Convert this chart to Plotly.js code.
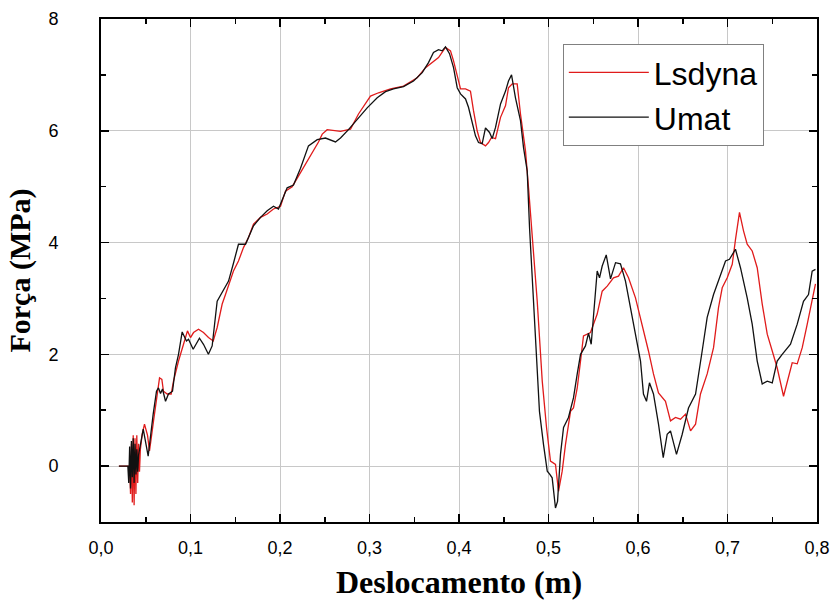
<!DOCTYPE html>
<html>
<head>
<meta charset="utf-8">
<script src="https://cdn.plot.ly/plotly-3.0.1.min.js"></script>
<style>html,body{margin:0;padding:0;background:#fff;}#chart{width:832px;height:608px;}</style>
</head>
<body>
<div id="chart"></div>
<script>
// Umat (black)
const umatX = [0.020,0.030,0.031,0.032,0.033,0.034,0.035,0.036,0.037,0.038,0.039,0.040,0.041,0.042,
0.0472,0.0527,0.0583,0.062,0.0642,0.0665,0.0687,0.0721,0.0754,0.0799,0.0832,0.0866,0.0907,0.0955,0.0978,0.103,
0.110,0.1145,0.120,0.1242,0.1298,0.1354,0.1425,0.148,0.1536,0.1615,0.1704,0.1782,0.1857,0.1927,0.1983,0.208,
0.2151,0.2229,0.2318,0.2416,0.2508,0.262,0.2676,0.2765,0.2863,0.2974,0.3086,0.3179,0.3268,0.338,0.3492,0.3589,
0.3659,0.3715,0.3771,0.3812,0.3849,0.3894,0.3939,0.398,0.4017,0.4073,0.4106,0.4148,0.4184,0.4218,0.4259,0.4296,
0.4341,0.4371,0.4408,0.4464,0.452,0.4553,0.4587,0.4631,0.4687,0.4721,0.4762,0.4788,0.4829,0.4866,0.4899,0.4944,
0.4986,0.5011,0.5041,0.5078,0.5101,0.5134,0.5168,0.5223,0.5279,0.5321,0.5358,0.5413,0.5447,0.5477,0.5503,0.5544,
0.557,0.560,0.5645,0.5693,0.5749,0.5804,0.586,0.5916,0.5972,0.6028,0.6061,0.6095,0.6128,0.6173,0.6229,0.6282,
0.6326,0.6363,0.643,0.6494,0.6564,0.6643,0.6717,0.6773,0.6844,0.6899,0.6978,0.7022,0.7089,0.7145,0.722,0.7276,
0.7332,0.7388,0.7444,0.750,0.7555,0.7611,0.7704,0.7779,0.7849,0.7905,0.7946,0.7983];
const umatY = [0.0,0.0,-0.3,0.35,-0.4,0.45,-0.2,0.5,-0.3,0.4,-0.15,0.3,-0.1,0.2,
0.66,0.18,0.93,1.34,1.40,1.30,1.38,1.16,1.29,1.34,1.76,2.0,2.40,2.24,2.27,2.09,
2.29,2.18,2.0,2.15,2.95,3.10,3.31,3.63,3.97,3.97,4.30,4.45,4.57,4.65,4.60,4.98,
5.03,5.33,5.73,5.84,5.87,5.80,5.87,6.02,6.21,6.41,6.59,6.70,6.75,6.79,6.89,7.04,
7.22,7.40,7.45,7.43,7.50,7.38,7.13,6.77,6.66,6.57,6.42,6.12,5.91,5.79,5.77,6.05,
5.97,5.86,6.06,6.48,6.71,6.89,7.00,6.59,6.18,5.70,5.28,4.27,3.07,2.06,0.98,0.39,
-0.09,-0.14,-0.21,-0.75,-0.63,0.21,0.69,0.87,1.22,1.65,2.0,2.15,2.38,2.18,2.72,3.49,
3.37,3.58,3.78,3.35,3.64,3.62,3.31,2.83,2.36,1.88,1.29,1.16,1.49,1.29,0.75,0.15,
0.57,0.63,0.21,0.57,1.04,1.29,2.06,2.66,3.07,3.31,3.67,3.70,3.88,3.55,3.01,2.54,
1.88,1.47,1.52,1.49,1.88,2.0,2.18,2.54,2.95,3.07,3.49,3.52];

// Lsdyna (red)
const lsdynaX = [0.020,0.032,0.033,0.034,0.035,0.036,0.037,0.038,0.039,0.040,0.041,0.042,0.043,0.044,
0.046,0.0486,0.052,0.0542,0.0587,0.0628,0.0654,0.068,0.0698,0.074,0.0784,0.081,0.0866,0.0922,0.0966,0.100,
0.1034,0.1089,0.1145,0.1201,0.1254,0.1298,0.1354,0.1391,0.1447,0.148,0.1536,0.1592,0.1648,0.1704,0.1782,0.1857,
0.1927,0.2006,0.2061,0.2136,0.2229,0.2341,0.243,0.2472,0.2527,0.2676,0.2788,0.2877,0.3011,0.3101,0.3235,0.338,
0.3533,0.3626,0.370,0.3771,0.3849,0.3905,0.3939,0.398,0.4017,0.4073,0.4128,0.4162,0.4203,0.424,0.4296,0.433,
0.4363,0.4408,0.4464,0.452,0.4553,0.4595,0.465,0.4687,0.4743,0.4777,0.4818,0.4874,0.493,0.4978,0.5022,0.5078,
0.5112,0.5153,0.519,0.5246,0.5279,0.5321,0.5358,0.5391,0.5469,0.5544,0.560,0.5656,0.5726,0.5782,0.5838,0.5894,
0.5972,0.6047,0.6117,0.6173,0.6229,0.6307,0.6363,0.6419,0.6475,0.6531,0.6587,0.6643,0.6698,0.6773,0.6844,0.6899,
0.6941,0.6997,0.7053,0.709,0.7134,0.7179,0.722,0.7276,0.7332,0.7388,0.7444,0.750,0.7555,0.7626,0.7682,0.7723,
0.7779,0.7835,0.7891,0.7946,0.7983];
const lsdynaY = [0.0,0.0,-0.5,0.4,-0.65,0.55,-0.7,0.5,-0.5,0.55,-0.3,0.4,-0.1,0.3,
0.57,0.75,0.55,0.27,0.81,1.29,1.58,1.55,1.34,1.29,1.29,1.52,1.88,2.18,2.42,2.30,
2.39,2.45,2.39,2.30,2.24,2.48,2.90,3.07,3.35,3.49,3.67,3.91,4.09,4.33,4.45,4.51,
4.60,4.65,4.92,5.0,5.25,5.55,5.80,5.94,6.02,5.99,6.03,6.30,6.62,6.68,6.75,6.80,
6.95,7.13,7.22,7.31,7.49,7.43,7.25,7.01,6.75,6.75,6.71,6.36,6.0,5.79,5.73,5.79,
5.88,5.86,6.24,6.45,6.77,6.84,6.84,6.30,5.64,4.98,4.09,2.95,1.52,0.69,0.09,0.03,
-0.45,-0.09,0.39,0.98,1.04,1.40,1.88,2.33,2.39,2.72,3.13,3.22,3.37,3.40,3.55,3.37,
3.01,2.54,2.06,1.65,1.31,1.16,0.81,0.87,0.84,0.93,0.63,0.75,1.29,1.65,2.12,2.83,
3.19,3.37,3.61,4.06,4.54,4.21,3.97,3.85,3.55,2.90,2.36,2.06,1.76,1.25,1.58,1.85,
1.83,2.12,2.54,2.95,3.26];

const seriesNames = ['Lsdyna', 'Umat'];

const axisCommon = {
  showline: true, linecolor: '#000', linewidth: 2, mirror: 'ticks',
  ticks: 'inside', ticklen: 8, tickwidth: 1.5, tickcolor: '#000',
  showgrid: true, gridcolor: '#c8c8c8', gridwidth: 1, zeroline: false,
  tickfont: {family: 'Liberation Sans Narrow, Liberation Sans, Arial', size: 18, color: '#000'}
};

const data = [
  {x: lsdynaX, y: lsdynaY, type: 'scatter', mode: 'lines', name: seriesNames[0],
   line: {color: '#e01b1b', width: 1.3}},
  {x: umatX, y: umatY, type: 'scatter', mode: 'lines', name: seriesNames[1],
   line: {color: '#111111', width: 1.3}}
];

const layout = {
  width: 832, height: 608,
  margin: {l: 101, r: 15, t: 19, b: 86},
  paper_bgcolor: '#fff', plot_bgcolor: '#fff',
  separators: ',.',
  showlegend: true,
  legend: {x: 0.645, y: 0.95, xanchor: 'left', yanchor: 'top',
    bgcolor: '#fff', bordercolor: '#808080', borderwidth: 1,
    itemwidth: 80,
    font: {family: 'Liberation Sans, Arial', size: 32, color: '#000'},
    tracegroupgap: 0},
  xaxis: Object.assign({}, axisCommon, {
    range: [0, 0.8], dtick: 0.1, tick0: 0, tickformat: '.1f',
    ticklabelstandoff: 8,
    minor: {dtick: 0.05, ticks: 'inside', ticklen: 5, tickwidth: 1.5, tickcolor: '#000', showgrid: false},
    title: {text: 'Deslocamento (m)', standoff: 14,
      font: {family: 'Liberation Serif, Times New Roman, serif', size: 32, color: '#000', weight: 'bold'}}
  }),
  yaxis: Object.assign({}, axisCommon, {
    range: [-1, 8], dtick: 2, tick0: 0,
    ticklabelstandoff: 37,
    minor: {dtick: 1, ticks: 'inside', ticklen: 5, tickwidth: 1.5, tickcolor: '#000', showgrid: false},
    title: {text: 'Força (MPa)', standoff: 9,
      font: {family: 'Liberation Serif, Times New Roman, serif', size: 30, color: '#000', weight: 'bold'}}
  })
};

Plotly.newPlot('chart', data, layout, {displayModeBar: false, staticPlot: true});
</script>
</body>
</html>
